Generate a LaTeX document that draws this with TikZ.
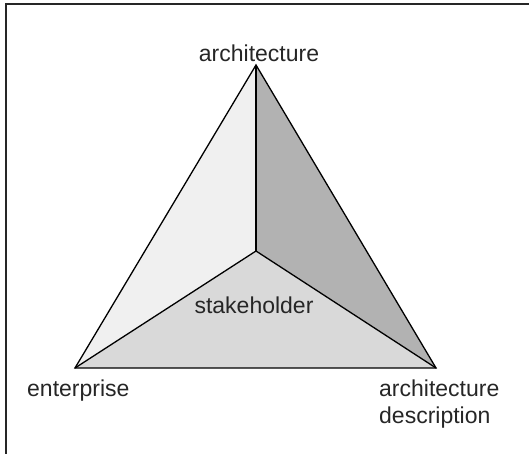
\documentclass[tikz,border=0pt]{standalone}
\usepackage{fontspec}
\setmainfont{Liberation Sans}
\usepackage{tikz}
\usetikzlibrary{calc}

\definecolor{facelight}{gray}{0.94}
\definecolor{facedark}{gray}{0.70}
\definecolor{facemid}{gray}{0.85}
\definecolor{labelgray}{gray}{0.15}

\tikzset{
  face/.style={draw=black, line width=1.3pt, line join=miter},
  tag/.style={anchor=base, inner sep=0pt, text=labelgray,
    font=\fontsize{23}{27}\selectfont}
}

\begin{document}
\begin{tikzpicture}[x=1pt, y=-1pt]
  \useasboundingbox (0,0) rectangle (529,454);

  % frame, cut at the right and bottom
  \draw [line width=2pt, draw=labelgray] (6,454) -- (6,4) -- (529,4);

  \coordinate (A) at (256,65);
  \coordinate (S) at (256,251);
  \coordinate (E) at (75,368);
  \coordinate (D) at (436,368);

  \fill [facelight] (A) -- (S) -- (E) -- cycle;
  \fill [facedark] (A) -- (D) -- (S) -- cycle;
  \fill [facemid] (E) -- (S) -- (D) -- cycle;

  \draw [face] (A) -- (E) -- (D) -- cycle;
  \draw [face] (A) -- (S);
  \draw [face] (E) -- (S) -- (D);

  \node [tag] (arch) at (259,62) {architecture};
  \node [tag] (stake) at (254,313) {stakeholder};
  \node [tag, anchor=base west] (ent) at (27,396) {enterprise};
  % base of a two-line node is its last line
  \node [tag, anchor=base west, align=left] (desc) at (379,423)
    {architecture\\description};
\end{tikzpicture}
\end{document}
